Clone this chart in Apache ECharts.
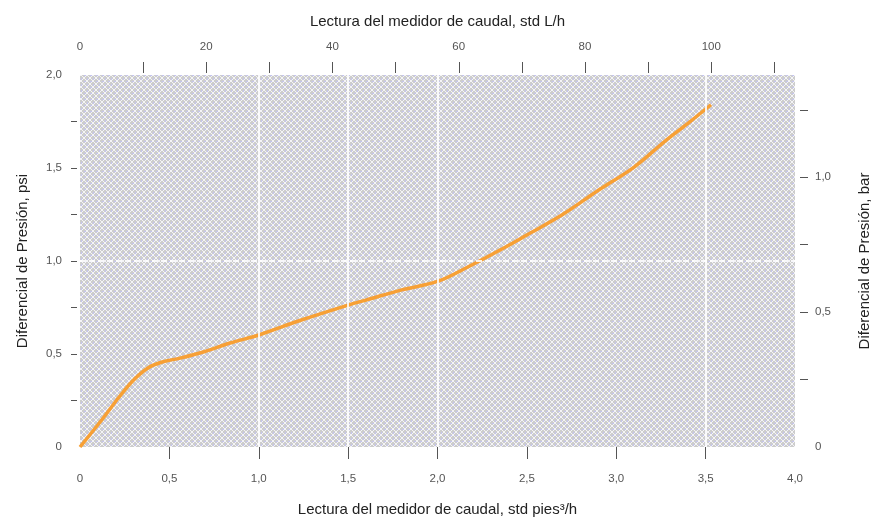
<!DOCTYPE html>
<html><head><meta charset="utf-8">
<script src="https://cdn.jsdelivr.net/npm/echarts@6/dist/echarts.min.js"></script>
<style>html,body{margin:0;padding:0;background:#fff}#c{width:876px;height:519px}</style>
</head><body><div id="c"></div>
<script>
// flow, std ft3/h
var flowCfh = [0, 0.13, 0.22, 0.30, 0.38, 0.46, 0.56, 0.69, 0.84, 1.0, 1.23, 1.5, 1.6, 1.8, 2.0, 2.17, 2.35, 2.5, 2.7, 2.9, 3.1, 3.28, 3.41, 3.53];
// pressure differential, psi
var dpPsi = [0, 0.156, 0.27, 0.36, 0.425, 0.457, 0.478, 0.511, 0.559, 0.602, 0.68, 0.763, 0.79, 0.845, 0.89, 0.968, 1.059, 1.14, 1.25, 1.38, 1.505, 1.65, 1.747, 1.84];
var bottomLabels = [0, 0.5, 1.0, 1.5, 2.0, 2.5, 3.0, 3.5, 4.0];
var bottomTicks = [0.5, 1.0, 1.5, 2.0, 2.5, 3.0, 3.5];
var topLabels = [0, 20, 40, 60, 80, 100];
var topTicks = [10, 20, 30, 40, 50, 60, 70, 80, 90, 100, 110];
var leftLabels = [0, 0.5, 1.0, 1.5, 2.0];
var leftTicks = [0.25, 0.5, 0.75, 1.0, 1.25, 1.5, 1.75];
var rightLabels = [0, 0.5, 1.0];
var rightTicks = [0.25, 0.5, 0.75, 1.0, 1.25];
var gridX = [1.0, 1.5, 2.0, 3.5];
var gridY = [1.0];

var LPH_PER_CFH = 28.3168;
var PSI_PER_BAR = 14.5038;

function fmt(v){ return v === 0 ? '0' : v.toFixed(1).replace('.', ','); }
function fmtInt(v){ return String(Math.round(v)); }

// background texture
var pc = document.createElement('canvas');
pc.width = 6; pc.height = 6;
var g = pc.getContext('2d');
g.fillStyle = '#cdcdcd'; g.fillRect(0,0,6,6);
g.fillStyle = '#f4f4f6';
for (var i=0;i<6;i++){ g.fillRect(i,i,1,1); g.fillRect(5-i,i,1,1); }
g.fillStyle = '#c4c4f0'; g.fillRect(0,3,1,1); g.fillRect(3,0,1,1); g.fillRect(1,3,1,1); g.fillRect(3,1,1,1);

var font = 'Liberation Sans, Arial, sans-serif';
var lblStyle = {color:'#555', fontSize:11.5, fontFamily:font};
var nameStyle = {color:'#222', fontSize:15, fontFamily:font};
var tickLine = {color:'#555', width:1};

var chart = echarts.init(document.getElementById('c'), null, {renderer:'canvas'});
var markData = gridX.map(function(v){return {xAxis:v, lineStyle:{type:'solid'}};})
  .concat(gridY.map(function(v){return {yAxis:v, lineStyle:{type:[6,3]}};}));
chart.setOption({
  animation:false,
  backgroundColor:'#fff',
  grid:{left:80, right:81, top:75, bottom:72, show:true, borderWidth:0, containLabel:false, outerBoundsMode:'none',
        backgroundColor:{image:pc, repeat:'repeat'}},
  xAxis:[{
    type:'value', position:'bottom', min:0, max:4, interval:0.5,
    name:'Lectura del medidor de caudal, std pies³/h', nameLocation:'middle', nameGap:55, nameTextStyle:nameStyle,
    axisLine:{show:false, onZero:false}, splitLine:{show:false},
    axisTick:{show:true, length:12, customValues:bottomTicks, lineStyle:tickLine},
    axisLabel:Object.assign({margin:26, customValues:bottomLabels, formatter:fmt}, lblStyle)
  },{
    type:'value', position:'top', min:0, max:4*LPH_PER_CFH, offset:2,
    name:'Lectura del medidor de caudal, std L/h', nameLocation:'middle', nameGap:44, nameTextStyle:nameStyle,
    axisLine:{show:false, onZero:false}, splitLine:{show:false},
    axisTick:{show:true, length:11, customValues:topTicks, lineStyle:tickLine},
    axisLabel:Object.assign({margin:20, customValues:topLabels, formatter:fmtInt}, lblStyle)
  }],
  yAxis:[{
    type:'value', position:'left', min:0, max:2, offset:3,
    name:'Diferencial de Presión, psi', nameLocation:'middle', nameGap:47, nameTextStyle:nameStyle,
    axisLine:{show:false, onZero:false}, splitLine:{show:false},
    axisTick:{show:true, length:6, customValues:leftTicks, lineStyle:tickLine},
    axisLabel:Object.assign({margin:15, customValues:leftLabels, formatter:fmt}, lblStyle)
  },{
    type:'value', position:'right', min:0, max:2/PSI_PER_BAR*10, offset:5,
    name:'Diferencial de Presión, bar', nameLocation:'middle', nameGap:57, nameTextStyle:nameStyle,
    axisLine:{show:false, onZero:false}, splitLine:{show:false},
    axisTick:{show:true, length:8, customValues:rightTicks, lineStyle:tickLine},
    axisLabel:Object.assign({margin:15, customValues:rightLabels, formatter:fmt}, lblStyle)
  }],
  series:[{
    type:'line', xAxisIndex:0, yAxisIndex:0, data:[], z:1, silent:true,
    markLine:{silent:true, symbol:['none','none'], label:{show:false},
      lineStyle:{color:'rgba(255,255,255,0.85)', width:2}, data:markData}
  },{
    type:'line', xAxisIndex:0, yAxisIndex:0, z:3,
    data: flowCfh.map(function(x,i){return [x, dpPsi[i]];}),
    smooth:0.35, showSymbol:false,
    lineStyle:{color:'#f7a035', width:3.5}
  }]
});
</script></body></html>
